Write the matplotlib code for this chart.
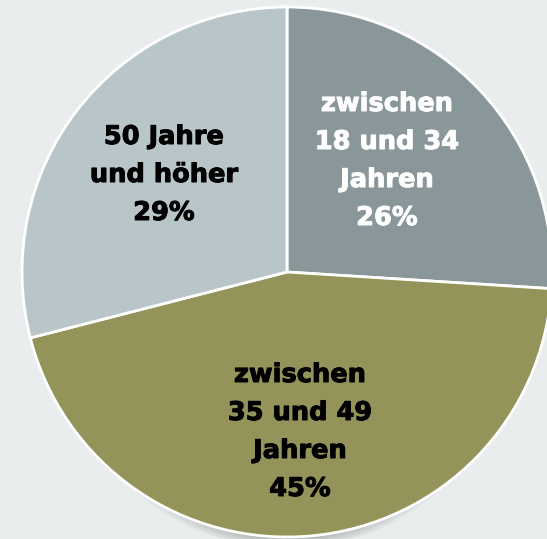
import matplotlib.pyplot as plt
import matplotlib.patheffects as pe
from matplotlib.patches import Ellipse

# Age groups of respondents
groups = ["zwischen\n18 und 34\nJahren", "zwischen\n35 und 49\nJahren", "50 Jahre\nund höher"]
shares = [26, 45, 29]
colors = ["#8a979a", "#949359", "#b9c6c9"]
label_colors = ["white", "black", "black"]

fig = plt.figure(figsize=(5.47, 5.39), dpi=100)
fig.patch.set_facecolor("#e9eded")
ax = fig.add_axes([0, 0, 1, 1])
ax.set_facecolor("#e9eded")

cx, cy, r = 287, 267, 265

# soft shadow under the bottom of the pie
for i in range(14):
    ax.add_patch(Ellipse((cx, cy - 10), 2 * r - 40 - i * 8, 2 * r + 4 - i * 3,
                         facecolor="black", alpha=0.03, lw=0, zorder=0))

labels = [f"{g}\n{s}%" for g, s in zip(groups, shares)]
wedges, texts = ax.pie(shares, labels=labels, colors=colors, startangle=90,
                       counterclock=False, center=(cx, cy), radius=r,
                       labeldistance=0.575, frame=True,
                       wedgeprops=dict(edgecolor="white", linewidth=2),
                       textprops=dict(fontsize=18.5, fontweight="bold",
                                      va="center", linespacing=1.6))
# label centres, in pixels from the top-left corner
label_xy = [(387, 161), (300, 432), (164, 175)]
for t, c, (x, y) in zip(texts, label_colors, label_xy):
    t.set_color(c)
    t.set_position((x, 539 - y))
    t.set_horizontalalignment("center")
    t.set_multialignment("center")
    t.set_path_effects([pe.withStroke(linewidth=0.7, foreground=c)])

ax.set_xlim(0, 547)
ax.set_ylim(0, 539)
ax.set_aspect("equal")
ax.axis("off")

fig.savefig("out.png", dpi=100, facecolor=fig.get_facecolor())
